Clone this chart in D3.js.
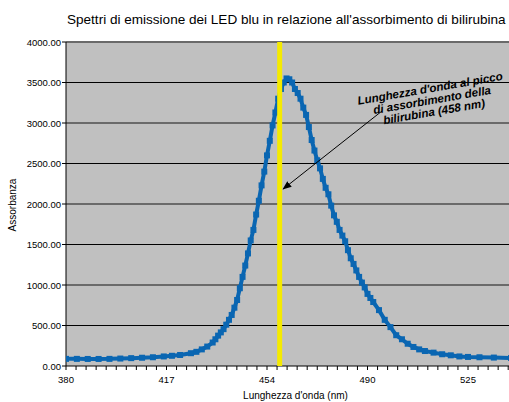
<!DOCTYPE html>
<html lang="it">
  <head>
    <meta charset="UTF-8" />
    <title>Spettri di emissione dei LED blu</title>
    <style>
      body { margin: 0; background: #fff; overflow: hidden; }
      svg { font-family: "Liberation Sans", Arial, sans-serif; display: block; }
    </style>
  </head>
  <body>
    <svg width="509" height="402"></svg>

    <script src="https://d3js.org/d3.v7.min.js"></script>
    <script>
      // wavelength (nm) and absorbance
      const wavelengths = [
        380, 384, 388, 392, 396, 400, 404, 408, 412, 416, 419, 422, 426, 428,
        430, 432, 434, 435, 436, 437, 438, 439, 440, 441, 442, 443, 444, 445,
        446, 447, 448, 449, 450, 451, 452, 453, 454, 455, 456, 457, 458, 459,
        460, 461, 462, 463, 464, 465, 466, 467, 468, 469, 470, 471, 472, 473,
        474, 475, 476, 477, 478, 479, 480, 481, 482, 483, 484, 485, 486, 487,
        488, 489, 490, 491, 492, 494, 496, 498, 500, 502, 504, 506, 508, 510,
        513, 516, 519, 522, 525, 529, 534, 540, 545,
      ];
      const absorbance = [
        88, 88, 87, 87, 88, 92, 97, 102, 108, 118, 126, 136, 158, 175,
        205, 240, 290, 330, 375, 415, 455, 510, 570, 630, 720, 815, 960, 1100,
        1240, 1390, 1550, 1680, 1870, 2040, 2230, 2400, 2600, 2780, 2970, 3130, 3300, 3420,
        3500, 3550, 3540, 3500, 3420, 3370, 3300, 3190, 3100, 2950, 2790, 2660, 2540, 2440,
        2310, 2200, 2120, 1980, 1860, 1780, 1680, 1610, 1540, 1430, 1330, 1260, 1180, 1100,
        1030, 970, 890, 840, 790, 690, 570, 480, 380, 330, 275, 235, 205, 185,
        165, 145, 132, 118, 112, 108, 104, 99, 96,
      ];
      const xTickLabels = [380, 417, 454, 490, 525];
      const yTicks = [0, 500, 1000, 1500, 2000, 2500, 3000, 3500, 4000];
      const peakWavelength = 458;

      const svg = d3.select("svg");
      const plotLeft = 66, plotTop = 42, plotBottom = 366, plotRight = 520;
      const step = 100.5; // pixels between labelled categories

      const x = d3
        .scaleLinear()
        .domain(xTickLabels)
        .range(xTickLabels.map((d, i) => plotLeft + i * step));
      const y = d3.scaleLinear().domain([0, 4000]).range([plotBottom, plotTop]);

      const defs = svg.append("defs");
      defs.append("clipPath").attr("id", "plot")
        .append("rect")
        .attr("x", plotLeft).attr("y", plotTop - 4)
        .attr("width", plotRight - plotLeft).attr("height", plotBottom - plotTop + 8);

      svg.append("rect")
        .attr("x", plotLeft).attr("y", plotTop)
        .attr("width", plotRight - plotLeft).attr("height", plotBottom - plotTop)
        .attr("fill", "#c0c0c0");

      // gridlines
      svg.append("g")
        .selectAll("line")
        .data(yTicks.filter((d) => d > 0))
        .join("line")
        .attr("x1", plotLeft).attr("x2", plotRight)
        .attr("y1", (d) => y(d)).attr("y2", (d) => y(d))
        .attr("stroke", (d) => (d % 1000 === 0 ? "#6a6a6a" : "#000"))
        .attr("stroke-width", (d) => (d % 1000 === 0 ? 2 : 1));

      // y axis
      svg.append("line")
        .attr("x1", plotLeft).attr("x2", plotLeft)
        .attr("y1", plotTop).attr("y2", plotBottom)
        .attr("stroke", "#000");
      svg.append("g")
        .selectAll("line")
        .data(yTicks)
        .join("line")
        .attr("x1", plotLeft - 4).attr("x2", plotLeft)
        .attr("y1", (d) => y(d)).attr("y2", (d) => y(d))
        .attr("stroke", "#000");
      svg.append("g")
        .selectAll("text")
        .data(yTicks)
        .join("text")
        .attr("x", plotLeft - 5)
        .attr("y", (d) => y(d) + 3.5)
        .attr("text-anchor", "end")
        .attr("font-size", 9.5)
        .text((d) => d3.format(".2f")(d));

      // x axis with minor category ticks
      svg.append("line")
        .attr("x1", plotLeft).attr("x2", plotRight)
        .attr("y1", plotBottom).attr("y2", plotBottom)
        .attr("stroke", "#000");
      svg.append("g")
        .selectAll("line")
        .data(d3.range(0, 46))
        .join("line")
        .attr("x1", (i) => plotLeft + (i * step) / 10)
        .attr("x2", (i) => plotLeft + (i * step) / 10)
        .attr("y1", plotBottom).attr("y2", plotBottom + 4)
        .attr("stroke", "#000");
      svg.append("g")
        .selectAll("text")
        .data(xTickLabels)
        .join("text")
        .attr("x", (d) => x(d))
        .attr("y", plotBottom + 17)
        .attr("text-anchor", "middle")
        .attr("font-size", 9.5)
        .text((d) => d);

      // spectrum
      const pts = wavelengths.map((w, i) => [w, absorbance[i]]);
      const series = svg.append("g").attr("clip-path", "url(#plot)");
      series.append("path")
        .datum(pts)
        .attr("fill", "none")
        .attr("stroke", "#0a66b2")
        .attr("stroke-width", 4)
        .attr("d", d3.line().x((d) => x(d[0])).y((d) => y(d[1])));
      series.selectAll("rect")
        .data(pts)
        .join("rect")
        .attr("x", (d) => x(d[0]) - 3)
        .attr("y", (d) => y(d[1]) - 3)
        .attr("width", 6).attr("height", 6)
        .attr("fill", "#0a66b2");

      // peak of bilirubin absorption
      svg.append("line")
        .attr("x1", x(peakWavelength) + 1.5).attr("x2", x(peakWavelength) + 1.5)
        .attr("y1", plotTop).attr("y2", plotBottom)
        .attr("stroke", "#f5ea00")
        .attr("stroke-width", 5);

      // annotation
      defs.append("marker")
        .attr("id", "arrow")
        .attr("viewBox", "0 0 10 10")
        .attr("refX", 9).attr("refY", 5)
        .attr("markerWidth", 9).attr("markerHeight", 9)
        .attr("markerUnits", "userSpaceOnUse")
        .attr("orient", "auto")
        .append("path")
        .attr("d", "M0,1 L10,5 L0,9 Z")
        .attr("fill", "#000");
      svg.append("line")
        .attr("x1", 382).attr("y1", 111)
        .attr("x2", x(peakWavelength) + 5).attr("y2", 189)
        .attr("stroke", "#000")
        .attr("stroke-width", 1)
        .attr("marker-end", "url(#arrow)");
      svg.append("g")
        .attr("transform", "translate(432,100) rotate(-9.8)")
        .selectAll("text")
        .data(["Lunghezza d'onda al picco", "di assorbimento della", "bilirubina (458 nm)"])
        .join("text")
        .attr("x", 0)
        .attr("y", (d, i) => (i - 1) * 11.8 + 4)
        .attr("text-anchor", "middle")
        .attr("font-size", 11.6)
        .attr("font-weight", "bold")
        .attr("font-style", "italic")
        .text((d) => d);

      // titles
      svg.append("text")
        .attr("x", 67).attr("y", 24)
        .attr("font-size", 13.55)
        .text("Spettri di emissione dei LED blu in relazione all'assorbimento di bilirubina");
      svg.append("text")
        .attr("x", (plotLeft + 509) / 2 + 8).attr("y", 399)
        .attr("text-anchor", "middle")
        .attr("font-size", 10)
        .text("Lunghezza d'onda (nm)");
      svg.append("text")
        .attr("transform", "translate(16,205) rotate(-90)")
        .attr("text-anchor", "middle")
        .attr("font-size", 10)
        .text("Assorbanza");
    </script>
  </body>
</html>
